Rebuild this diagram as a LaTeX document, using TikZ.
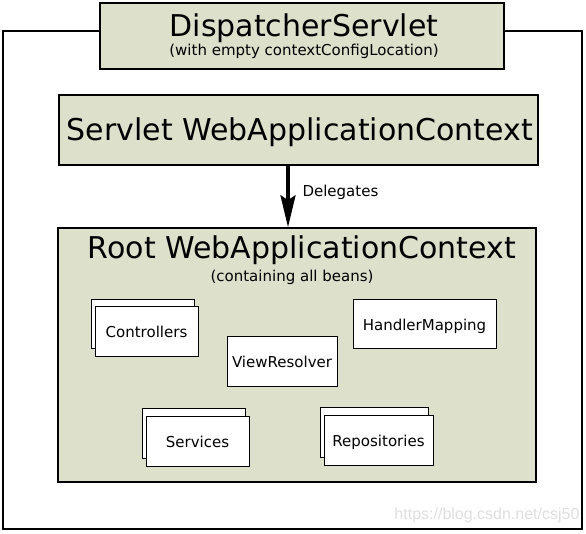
\documentclass[tikz,border=0pt]{standalone}
\usepackage{fontspec}
\setmainfont{DejaVu Sans}
\newfontfamily\wmfont{Liberation Sans}
\usetikzlibrary{arrows.meta}
\definecolor{ctxfill}{RGB}{221,224,203}
\definecolor{wmgray}{RGB}{222,222,222}
\tikzset{
  ctxbox/.style={draw=black, line width=1.5pt, fill=ctxfill, inner sep=0pt},
  beanbox/.style={draw=black, line width=1pt, fill=white, inner sep=0pt, text height=12pt, text depth=0pt, font=\fontsize{15}{17}\selectfont},
  bigtext/.style={font=\fontsize{30}{34}\selectfont, anchor=base},
  smalltext/.style={font=\fontsize{15}{17}\selectfont, anchor=base},
  frame/.style={draw=black, line width=2pt},
  delegate/.style={line width=3.5pt, -{Stealth[length=32pt,width=15pt,inset=5pt]}},
}
\begin{document}
\begin{tikzpicture}[x=1pt,y=-1pt]
\useasboundingbox (0,0) rectangle (586,533);
% outer frame
\draw[frame] (100,31) -- (3,31) -- (3,529) -- (582,529) -- (582,31) -- (504,31);
% DispatcherServlet
\node[ctxbox, minimum width=404pt, minimum height=66pt] (ds) at (302,36) {};
\node[bigtext] (dst) at (304,36) {DispatcherServlet};
\node[smalltext] (dss) at (304,55) {(with empty contextConfigLocation)};
% Servlet WAC
\node[ctxbox, minimum width=479pt, minimum height=70pt] (swac) at (298.5,130) {};
\node[bigtext] (swact) at (300,140) {Servlet WebApplicationContext};
% Root WAC
\node[ctxbox, minimum width=478pt, minimum height=254pt] (root) at (297,355) {};
\node[bigtext] (roott) at (302,258) {Root WebApplicationContext};
\node[smalltext] (roots) at (292,281) {(containing all beans)};
% arrow
\draw[delegate] (swac.south -| 288,0) -- (root.north -| 288,0);
\node[smalltext, anchor=base west] (del) at (299,196) {Delegates};
% beans
\node[beanbox, minimum width=103pt, minimum height=49pt] (ctrlb) at (142.5,323.5) {};
\node[beanbox, minimum width=103pt, minimum height=50pt] (ctrl) at (146.5,331) {Controllers};
\node[beanbox, minimum width=110pt, minimum height=50pt] (vr) at (282,361) {ViewResolver};
\node[beanbox, minimum width=143pt, minimum height=49pt, text height=13.5pt] (hm) at (424.5,323.5) {HandlerMapping};
\node[beanbox, minimum width=103pt, minimum height=50pt] (svcb) at (193.5,433) {};
\node[beanbox, minimum width=103pt, minimum height=50pt] (svc) at (197.5,441) {Services};
\node[beanbox, minimum width=108pt, minimum height=50pt] (repb) at (374,432) {};
\node[beanbox, minimum width=109pt, minimum height=50pt] (rep) at (378.5,440) {Repositories};
% watermark
\node[font=\wmfont\fontsize{16}{18}\selectfont, text=wmgray, anchor=base east] (wm) at (583,519) {https://blog.csdn.net/csj50};
\end{tikzpicture}
\end{document}
